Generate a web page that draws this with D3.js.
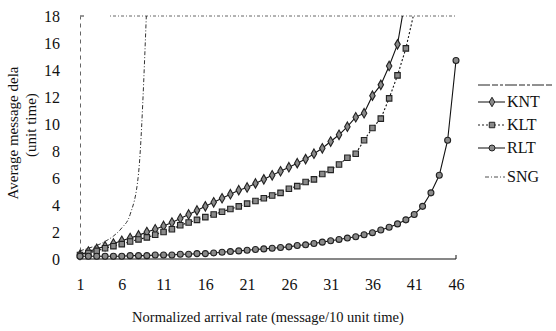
<!DOCTYPE html>
<html>
<head>
<meta charset="utf-8">
<script src="https://cdn.jsdelivr.net/npm/d3@7"></script>
<style>
    html, body { margin: 0; padding: 0; background: #fff; }
    .chart { width: 556px; height: 331px; }
    text { font-family: "Liberation Serif", "Times New Roman", serif; fill: #111; }
</style>
</head>
<body>
<div class="chart"></div>
<script>
// categories 1..46 (normalized arrival rate)
const categories = d3.range(1, 47);
const xTickLabels = [1, 6, 11, 16, 21, 26, 31, 36, 41, 46];
const yTickLabels = [0, 2, 4, 6, 8, 10, 12, 14, 16, 18];

const seriesNames = ["KNT", "KLT", "RLT", "SNG"];

const knt = [0.3, 0.55, 0.75, 0.95, 1.15, 1.35, 1.55, 1.75, 2.0, 2.2,
             2.45, 2.7, 3.0, 3.3, 3.6, 3.9, 4.2, 4.5, 4.8, 5.1,
             5.3, 5.6, 5.9, 6.2, 6.5, 6.8, 7.1, 7.4, 7.8, 8.2,
             8.7, 9.2, 9.8, 10.5, 10.8, 12.1, 12.9, 14.3, 15.9, 19.5];

const klt = [0.3, 0.45, 0.6, 0.8, 0.95, 1.1, 1.3, 1.45, 1.6, 1.8,
             2.0, 2.2, 2.5, 2.7, 2.9, 3.1, 3.3, 3.5, 3.7, 3.9,
             4.1, 4.3, 4.5, 4.7, 4.9, 5.2, 5.4, 5.7, 5.9, 6.3,
             6.6, 7.0, 7.5, 7.8, 8.8, 9.7, 10.4, 11.9, 13.6, 15.6, 18.3];

const rlt = [0.2, 0.2, 0.2, 0.2, 0.2, 0.2, 0.25, 0.25, 0.25, 0.3,
             0.3, 0.3, 0.35, 0.35, 0.4, 0.4, 0.45, 0.5, 0.55, 0.6,
             0.65, 0.7, 0.75, 0.8, 0.85, 0.9, 1.0, 1.05, 1.15, 1.25,
             1.35, 1.45, 1.55, 1.65, 1.8, 1.95, 2.15, 2.35, 2.6, 2.9,
             3.3, 3.9, 4.9, 6.2, 8.8, 14.7];

const sng = [0.6, 0.8, 1.0, 1.3, 1.7, 2.3, 3.3, 6.3, 19];

const W = 556, H = 331;
const margin = { left: 80, right: 100, top: 16, bottom: 72 };

const svg = d3.select(".chart").append("svg")
    .attr("width", W)
    .attr("height", H)
    .attr("viewBox", "0 0 " + W + " " + H);

const x = d3.scalePoint()
    .domain(categories)
    .range([margin.left, W - margin.right]);

const y = d3.scaleLinear()
    .domain([0, 18])
    .range([H - margin.bottom, margin.top]);

svg.append("defs").append("clipPath")
    .attr("id", "plot")
    .append("rect")
    .attr("x", margin.left - 6)
    .attr("y", y(18))
    .attr("width", x(46) - margin.left + 12)
    .attr("height", y(0) - y(18) + 6);

// plot frame: dotted top, dashed left, solid bottom
svg.append("line")
    .attr("x1", x(1) + 30).attr("x2", x(46))
    .attr("y1", y(18)).attr("y2", y(18))
    .attr("stroke", "#666").attr("stroke-width", 1)
    .attr("stroke-dasharray", "1,2,3,2");

svg.append("line")
    .attr("x1", x(1)).attr("x2", x(1) + 4)
    .attr("y1", y(18)).attr("y2", y(18))
    .attr("stroke", "#333");

const yAxis = d3.axisLeft(y)
    .tickValues(yTickLabels)
    .tickSize(0)
    .tickPadding(20)
    .tickFormat(d3.format("d"));

const gy = svg.append("g")
    .attr("transform", "translate(" + x(1) + ",0)")
    .call(yAxis);
gy.select(".domain")
    .attr("stroke", "#666")
    .attr("stroke-dasharray", "4,4");
gy.selectAll("text")
    .style("font-size", "16px");

const xAxis = d3.axisBottom(x)
    .tickValues(xTickLabels)
    .tickSize(0)
    .tickPadding(20);

const gx = svg.append("g")
    .attr("transform", "translate(0," + y(0) + ")")
    .call(xAxis);
gx.select(".domain").remove();
gx.selectAll("text")
    .style("font-size", "16px");

svg.append("line")
    .attr("x1", x(1) - 2).attr("x2", x(46))
    .attr("y1", y(0)).attr("y2", y(0))
    .attr("stroke", "#111").attr("stroke-width", 1.2);
svg.append("line")
    .attr("x1", x(46)).attr("x2", x(46))
    .attr("y1", y(0)).attr("y2", y(0) - 4)
    .attr("stroke", "#111");

// axis titles
svg.append("text")
    .attr("x", 268).attr("y", 322)
    .attr("text-anchor", "middle")
    .style("font-size", "14.5px")
    .text("Normalized arrival rate (message/10 unit time)");

svg.append("text")
    .attr("transform", "translate(18,133) rotate(-90)")
    .attr("text-anchor", "middle")
    .style("font-size", "15px")
    .text("Average message dela");

svg.append("text")
    .attr("transform", "translate(36,125) rotate(-90)")
    .attr("text-anchor", "middle")
    .style("font-size", "15px")
    .text("(unit time)");

// series
const series = [
    { name: "KNT", values: knt, dash: null, symbol: d3.symbolDiamond, size: 26, curve: d3.curveLinear },
    { name: "KLT", values: klt, dash: "2,2", symbol: d3.symbolSquare, size: 30, curve: d3.curveLinear },
    { name: "RLT", values: rlt, dash: null, symbol: d3.symbolCircle, size: 28, curve: d3.curveLinear },
    { name: "SNG", values: sng, dash: "4,2,1,2", symbol: null, size: 0, curve: d3.curveMonotoneX }
];

const plot = svg.append("g").attr("clip-path", "url(#plot)");

series.forEach(s => {
    const line = d3.line()
        .curve(s.curve)
        .x((d, i) => x(categories[i]))
        .y(d => y(d));

    plot.append("path")
        .datum(s.values)
        .attr("fill", "none")
        .attr("stroke", s.name === "SNG" ? "#333" : "#111")
        .attr("stroke-width", s.name === "SNG" ? 1 : 1.1)
        .attr("stroke-dasharray", s.dash)
        .attr("d", line);
});

series.filter(s => s.symbol).forEach(s => {
    plot.selectAll(null)
        .data(s.values.map((v, i) => ({ c: categories[i], v: v })).filter(d => d.v <= 18.5))
        .join("path")
        .attr("transform", d => "translate(" + x(d.c) + "," + y(d.v) + ")")
        .attr("d", d3.symbol().type(s.symbol).size(s.size))
        .attr("fill", "#8a8a8a")
        .attr("stroke", "#222")
        .attr("stroke-width", 1.1);
});

// legend
const legend = svg.append("g");

legend.append("line")
    .attr("x1", 478).attr("x2", 553)
    .attr("y1", 85).attr("y2", 85)
    .attr("stroke", "#222")
    .attr("stroke-dasharray", "12,2,6,2,3,2");

const legendY = [102, 125, 148, 177];

series.forEach((s, i) => {
    const ly = legendY[i];
    legend.append("line")
        .attr("x1", s.name === "SNG" ? 485 : 478).attr("x2", 505)
        .attr("y1", ly).attr("y2", ly)
        .attr("stroke", "#222")
        .attr("stroke-width", s.name === "SNG" ? 0.8 : 1.1)
        .attr("stroke-dasharray", s.dash);
    if (s.symbol) {
        legend.append("path")
            .attr("transform", "translate(492," + ly + ")")
            .attr("d", d3.symbol().type(s.symbol).size(s.size))
            .attr("fill", "#8a8a8a")
            .attr("stroke", "#222");
    }
    legend.append("text")
        .attr("x", 507).attr("y", ly + 5)
        .style("font-size", "16px")
        .text(s.name);
});
</script>
</body>
</html>
